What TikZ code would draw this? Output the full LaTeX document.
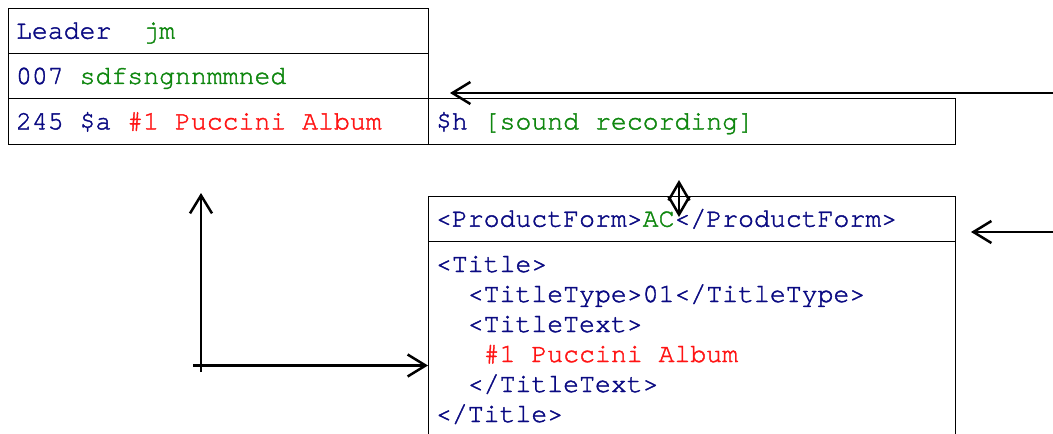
\documentclass[tikz,border=0pt]{standalone}
\usepackage{fontspec}
\setmonofont{TeX Gyre Cursor}[FakeBold=1.5]
\usetikzlibrary{arrows.meta}
\definecolor{tblue}{RGB}{10,10,130}
\definecolor{tgreen}{RGB}{15,135,15}
\definecolor{tred}{RGB}{255,20,20}
\newcommand{\monofnt}{\ttfamily\fontsize{26.5}{30}\selectfont}
\newcommand{\sk}{\hspace{0.6em}}
\begin{document}
\begin{tikzpicture}[x=1pt,y=-1pt,
  cell/.style={draw, line width=1pt, anchor=north west, outer sep=0pt,
    inner xsep=8pt, inner ysep=0pt, minimum height=45.33pt,
    text height=22pt, text depth=6pt, align=left,
    font=\monofnt, text=tblue},
  tbox/.style={draw, line width=1pt, anchor=north west, outer sep=0pt,
    inner xsep=8pt, inner ysep=10pt, align=left, text width=511pt,
    text depth=200pt, font=\monofnt, text=tblue},
  conn/.style={line width=2.5pt, -{Straight Barb[length=18pt,width=22pt]}},
  dconn/.style={line width=2.5pt, {Straight Barb[length=18pt,width=21pt]}-{Straight Barb[length=18pt,width=21pt]}}]
\path[use as bounding box] (0,0) rectangle (1053,434);
\fill[white] (0,0) rectangle (1053,434);
\clip (0,0) rectangle (1053,434);
% MARC record
\node[cell, text width=404pt] (leader) at (8,8) {Leader\sk\sk\textcolor{tgreen}{jm}};
\node[cell, text width=404pt] (f007) at (8,53.33) {007\sk\textcolor{tgreen}{sdfsngnnmmned}};
\node[cell, text width=404pt] (f245a) at (8,98.67) {245\sk\$a\sk\textcolor{tred}{\#1\sk Puccini\sk Album}};
\node[cell, text width=511pt] (f245h) at (428,98.67) {\$h\sk\textcolor{tgreen}{[sound\sk recording]}};
% ONIX record
\node[cell, text width=511pt] (pform) at (428,196) {<ProductForm>\textcolor{tgreen}{AC}</ProductForm>};
\node[tbox] (title) at (428,241) {\strut<Title>\\
\phantom{xx}<TitleType>01</TitleType>\\
\phantom{xx}<TitleText>\\
\phantom{xxx}\textcolor{tred}{\#1\sk Puccini\sk Album}\\
\phantom{xx}</TitleText>\\
</Title>};
% connectors
\coordinate (rA) at (1053,93);
\coordinate (tA) at (450,93);
\draw[conn] (rA) -- (tA);
\coordinate (rB) at (1053,232);
\coordinate (tB) at (971,232);
\draw[conn] (rB) -- (tB);
\coordinate (ax) at (201,372);
\coordinate (ay) at (201,193);
\draw[conn] (ax) -- (ay);
\coordinate (ox) at (193,365.5);
\draw[conn] (ox) -- (ox -| title.west);
\coordinate (d1) at (679,180);
\coordinate (d2) at (679,217);
\draw[dconn] (d1) -- (d2);
\end{tikzpicture}
\end{document}
